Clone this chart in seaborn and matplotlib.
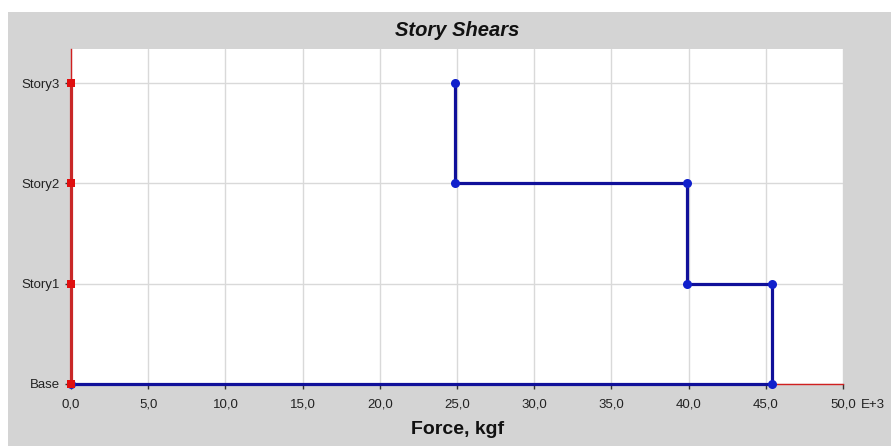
import matplotlib
matplotlib.use("Agg")
import matplotlib.pyplot as plt
from matplotlib.patches import Rectangle
import seaborn as sns
import pandas as pd

# Story levels and shear forces (E+3 kgf)
stories = ["Base", "Story1", "Story2", "Story3"]
shear_x = [45.4, 39.9, 24.9]          # Story1..Story3, X direction
shear_y = [0.0, 0.0, 0.0]             # Story1..Story3, Y direction
x_ticks = [0, 5, 10, 15, 20, 25, 30, 35, 40, 45, 50]
x_tick_labels = ["0,0", "5,0", "10,0", "15,0", "20,0", "25,0",
                 "30,0", "35,0", "40,0", "45,0", "50,0"]


def step_path(shears):
    """Stepped shear diagram: each story's shear spans from the level below to its own level."""
    xs, ys = [0.0], [0.0]
    for lvl, v in enumerate(shears, start=1):
        xs += [v, v]
        ys += [lvl - 1, lvl]
    return pd.DataFrame({"force": xs, "level": ys})


sns.set_theme(style="white")
plt.rcParams["font.family"] = ["Liberation Sans", "DejaVu Sans"]

fig = plt.figure(figsize=(8.91, 4.46), dpi=100)
fig.patch.set_facecolor("white")
fig.add_artist(Rectangle((8 / 891, 0), 1, 1 - 12 / 446, transform=fig.transFigure,
                         facecolor="#d4d4d4", edgecolor="none", zorder=-10))

ax = fig.add_axes([71 / 891, 1 - 384 / 446, 772 / 891, (384 - 49) / 446])
ax.set_facecolor("white")

dfx = step_path(shear_x)
dfy = step_path(shear_y)

sns.lineplot(data=dfx, x="force", y="level", sort=False, estimator=None, ax=ax,
             color="#10109a", lw=2.3, marker="o", markersize=6.5,
             markerfacecolor="#1020cc", markeredgewidth=0, zorder=4, clip_on=False)
sns.lineplot(data=dfy, x="force", y="level", sort=False, estimator=None, ax=ax,
             color="#c82828", lw=2.3, marker="s", markersize=5.5,
             markerfacecolor="#e01010", markeredgewidth=0, zorder=5, clip_on=False)

ax.set_xlim(0, 50)
ax.set_ylim(0, 3.34)
ax.set_xticks(x_ticks)
ax.set_xticklabels(x_tick_labels)
ax.set_yticks(range(len(stories)))
ax.set_yticklabels(stories)
ax.grid(True, color="#d9d9d9", lw=1)
ax.set_axisbelow(True)
ax.set_xlabel("")
ax.set_ylabel("")

for side in ("top", "right"):
    ax.spines[side].set_visible(False)
ax.spines["left"].set_color("#d02020")
ax.spines["left"].set_linewidth(1.0)
ax.spines["bottom"].set_color("#d02020")
ax.spines["bottom"].set_linewidth(1.0)

ax.tick_params(axis="x", direction="out", length=3.5, width=1, color="#333333",
               pad=7, labelsize=9.5, labelcolor="#222222", bottom=True)
ax.tick_params(axis="y", direction="out", length=4, width=1, color="#333333",
               pad=4, labelsize=9.5, labelcolor="#222222", left=True)

# exponent suffix placed after the last x tick label
fig.text(861 / 891, 1 - 405 / 446, "E+3", ha="left", va="center",
         fontsize=9.5, color="#222222")
fig.text(457 / 891, 1 - 30 / 446, "Story Shears", ha="center", va="center",
         fontsize=14.5, fontweight="bold", fontstyle="italic", color="#111111")
fig.text(458 / 891, 1 - 430 / 446, "Force, kgf", ha="center", va="center",
         fontsize=14, fontweight="bold", color="#111111")

fig.savefig("out.png", dpi=100)
